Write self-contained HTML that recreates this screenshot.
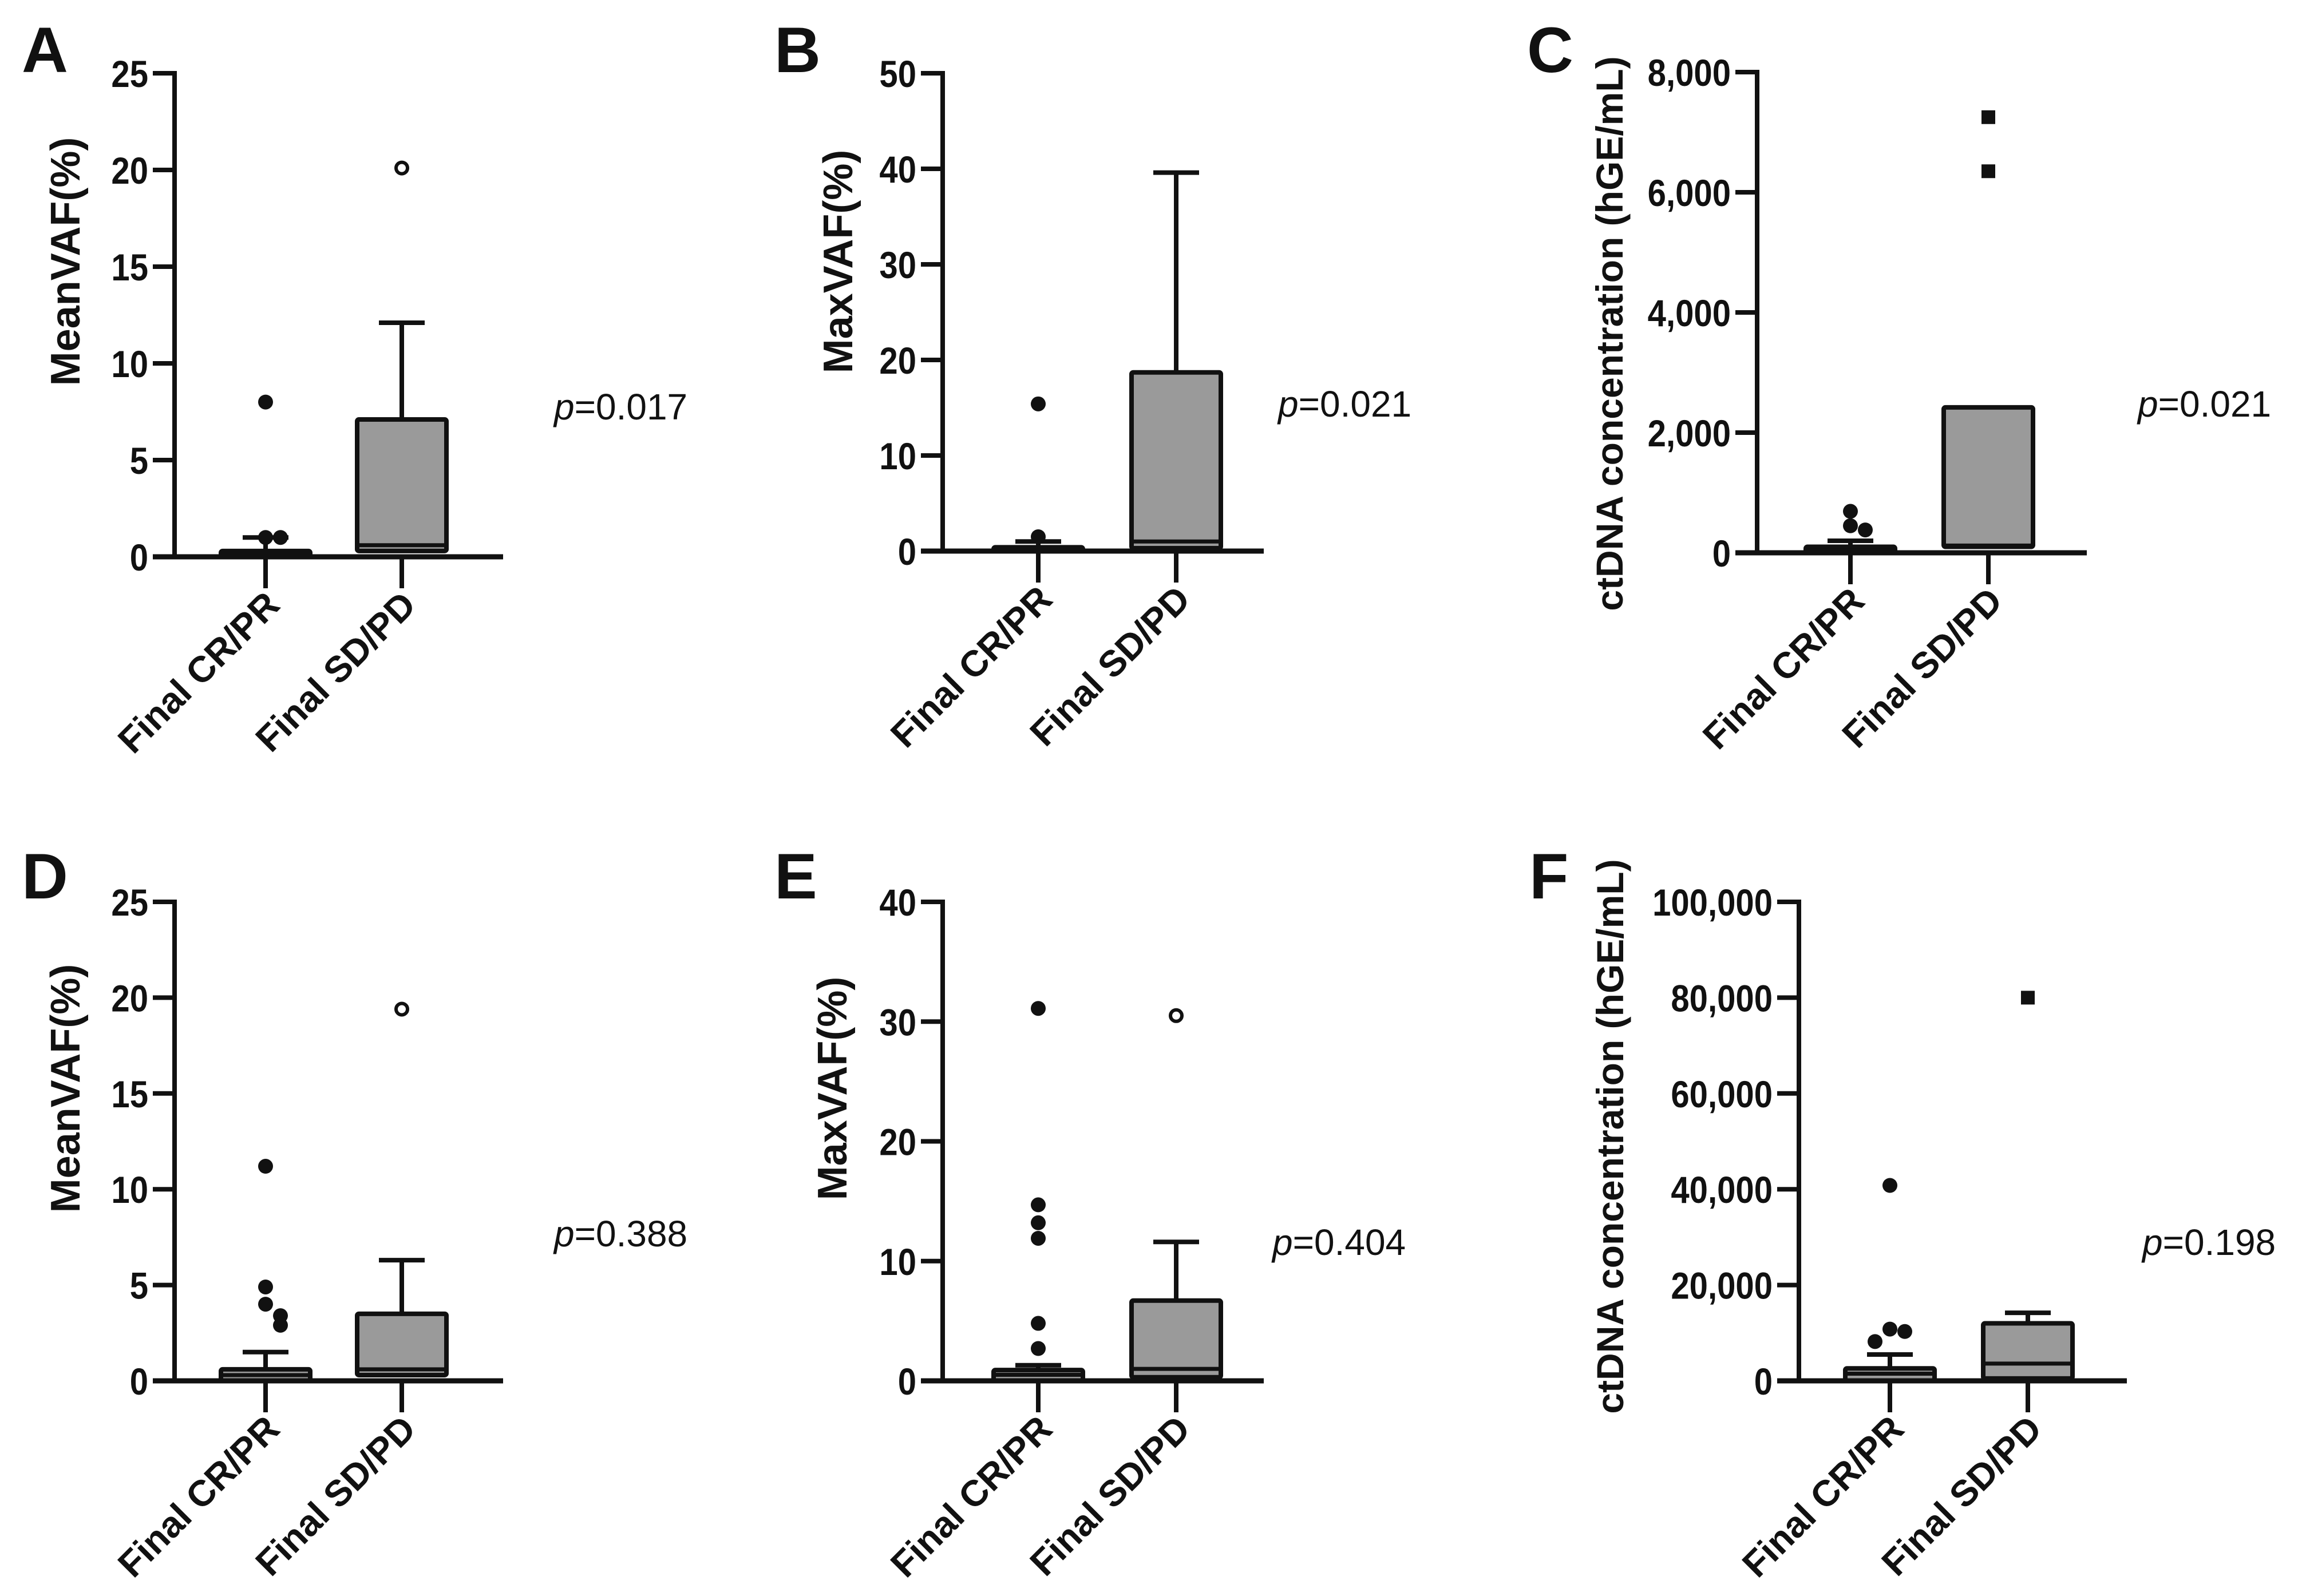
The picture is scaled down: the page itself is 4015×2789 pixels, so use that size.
<!DOCTYPE html>
<html><head><meta charset="utf-8">
<style>
html,body{margin:0;padding:0;background:#fff;}
svg{display:block;}
text{font-family:"Liberation Sans",Arial,sans-serif;fill:#111;}
</style></head>
<body>
<svg id="fig" width="4015" height="2789" viewBox="0 0 4015 2789" xmlns="http://www.w3.org/2000/svg"></svg>
<script>
// ---- data ----
const categories = ["Final CR/PR", "Final SD/PD"];
const panelLetters = ["A","B","C","D","E","F"];
const yTitles = ["MeanVAF(%)","MaxVAF(%)","ctDNA concentration (hGE/mL)","MeanVAF(%)","MaxVAF(%)","ctDNA concentration (hGE/mL)"];
const pValues = ["0.017","0.021","0.021","0.388","0.404","0.198"];
const yMax = [25,50,8000,25,40,100000];
const yTickStep = [5,10,2000,5,10,20000];
// per panel, per category
const boxLow = [[0,0.3],[0,0.3],[0,100],[0,0.3],[0,0.3],[0,500]];
const boxMedian = [[0.1,0.6],[0.1,1.0],[40,120],[0.3,0.6],[0.5,1.0],[1500,3600]];
const boxHigh = [[0.3,7.1],[0.4,18.7],[100,2420],[0.6,3.5],[0.9,6.7],[2600,12000]];
const whiskerHigh = [[1.0,12.1],[1.0,39.6],[200,2420],[1.5,6.3],[1.3,11.6],[5500,14200]];
const outliersCR = [[8.0,1.0,1.0],[15.4,1.5],[690,450,380],[11.2,4.9,4.0,3.4,2.9],[31.1,14.7,13.2,11.9,4.8,2.7],[40800,10800,10300,8200]];
const outliersSD = [[20.1],[],[7250,6350],[19.4],[30.5],[80000]];
const sdMarker = ["open","open","square","open","open","square"];

// ---- layout ----
const panelAxisX = [305,1647,3070,305,1647,3143];
const panelAxisRight = [879,2208,3646,879,2208,3716];
const panelTop = [128,128,126,1576,1576,1576];
const panelZero = [973,963,966,2413,2413,2413];
const catX = [[464,702],[1814,2055],[3233,3474],[464,702],[1814,2055],[3302,3543]];
const titleX = [115,1465,2811,115,1455,2812];
const titleY = [457,457,583,1902,1902,1986];
const titleSize = [72,72,66,72,72,66];
const pX = [968,2233,3735,968,2223,3743];
const pY = [733,728,728,2178,2193,2193];
const letterX = [38,1353,2668,38,1353,2672];
const letterY = [126,126,126,1570,1570,1570];

const svg = document.getElementById('fig');
const NS = 'http://www.w3.org/2000/svg';
function mk(tag, attrs, parent){
  const e = document.createElementNS(NS, tag);
  for (const k in attrs) e.setAttribute(k, attrs[k]);
  (parent||svg).appendChild(e);
  return e;
}
function fmt(v){ return v >= 1000 ? v.toLocaleString('en-US') : String(v); }

for (let p = 0; p < 6; p++) {
  const g = mk('g', {});
  
  
  const x0 = panelAxisX[p], y0 = panelZero[p], yt = panelTop[p];
  const ys = v => y0 - (v / yMax[p]) * (y0 - yt);

  const L = mk('text', {x: letterX[p], y: letterY[p], 'font-size': 112, 'font-weight': 'bold'}, g);
  L.textContent = panelLetters[p];
  
  

  const ya = mk('line', {x1: x0, y1: yt - 4, x2: x0, y2: y0 + 4, stroke: '#111', 'stroke-width': 8}, g);
  
  
  for (let v = 0; v <= yMax[p] + 1e-9; v += yTickStep[p]) {
    const y = ys(v);
    const t = mk('line', {x1: x0 - 38, y1: y, x2: x0, y2: y, stroke: '#111', 'stroke-width': 8}, g);
    
    
    const tl = mk('text', {x: 0, y: 0, 'font-size': 66, 'font-weight': 'bold', 'text-anchor': 'end', transform: `translate(${x0 - 46},${y + 24}) scale(0.88,1)`}, g);
    tl.textContent = fmt(v);
    
    
  }
  const yt2 = mk('text', {x: 0, y: 0, 'font-size': titleSize[p], 'font-weight': 'bold', 'text-anchor': 'middle', transform: `translate(${titleX[p] + 24},${titleY[p]}) rotate(-90)`}, g);
  yt2.textContent = yTitles[p];
  
  

  for (let c = 0; c < 2; c++) {
    const cx = catX[p][c];
    const bw = 156;
    const yq1 = ys(boxLow[p][c]), yq3 = ys(boxHigh[p][c]), ym = ys(boxMedian[p][c]), yw = ys(whiskerHigh[p][c]);
    if (yw < yq3 - 2) {
      const w = mk('line', {x1: cx, y1: yq3, x2: cx, y2: yw, stroke: '#111', 'stroke-width': 8}, g);
      
      
      const cap = mk('line', {x1: cx - 40, y1: yw, x2: cx + 40, y2: yw, stroke: '#111', 'stroke-width': 8}, g);
      
      
    }
    const b = mk('rect', {x: cx - bw/2, y: yq3, width: bw, height: Math.max(yq1 - yq3, 4), fill: '#9a9a9a', stroke: '#111', 'stroke-width': 8, rx: 3}, g);
    
    
    const m = mk('line', {x1: cx - bw/2, y1: ym, x2: cx + bw/2, y2: ym, stroke: '#111', 'stroke-width': 7}, g);
    
    
    const xt = mk('line', {x1: cx, y1: y0, x2: cx, y2: y0 + 55, stroke: '#111', 'stroke-width': 8}, g);
    
    
    const cl = mk('text', {x: 0, y: 0, 'font-size': 64, 'font-weight': 'bold', 'text-anchor': 'end', transform: `translate(${cx + 28},${y0 + 88}) rotate(-45)`}, g);
    cl.textContent = categories[c];
    
    

    const outs = c === 0 ? outliersCR[p] : outliersSD[p];
    const placed = [];
    outs.forEach(v => {
      const y = ys(v);
      const same = placed.filter(q => Math.abs(q - y) < 22).length;
      placed.push(y);
      let dx = 0;
      if (same === 1) dx = 26;
      if (same >= 2) dx = -26;
      const px = cx + dx;
      let o;
      if (c === 1 && sdMarker[p] === 'square') {
        o = mk('rect', {x: px - 12, y: y - 12, width: 24, height: 24, fill: '#111'}, g);
      } else if (c === 1 && sdMarker[p] === 'open') {
        o = mk('circle', {cx: px, cy: y, r: 10, fill: '#fff', stroke: '#111', 'stroke-width': 6}, g);
      } else {
        o = mk('circle', {cx: px, cy: y, r: 13, fill: '#111'}, g);
      }
      
      
    });
  }
  const xa = mk('line', {x1: x0 - 38, y1: y0, x2: panelAxisRight[p], y2: y0, stroke: '#111', 'stroke-width': 9}, g);
  
  

  const pt = mk('text', {x: pX[p], y: pY[p], 'font-size': 64}, g);
  const it = mk('tspan', {'font-style': 'italic'}, pt);
  it.textContent = 'p';
  const rest = mk('tspan', {}, pt);
  rest.textContent = '=' + pValues[p];
  
  
}
</script>
</body></html>
